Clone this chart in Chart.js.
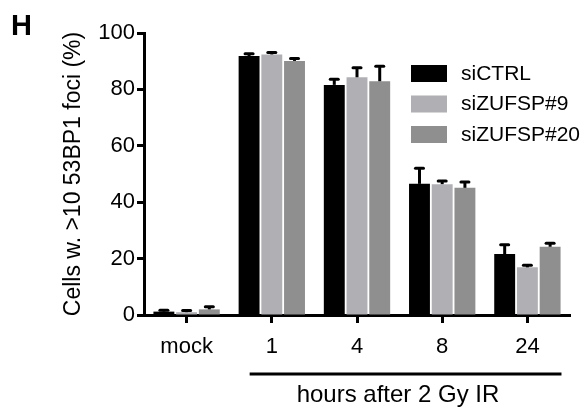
<!DOCTYPE html>
<html>
<head>
<meta charset="utf-8">
<script src="https://cdn.jsdelivr.net/npm/chart.js@4/dist/chart.umd.min.js"></script>
<style>
html,body{margin:0;padding:0;background:#fff;}
#wrap{position:relative;width:583px;height:414px;}
</style>
</head>
<body>
<div id="wrap"><canvas id="c" width="583" height="414"></canvas></div>
<script>
const categories = ['mock', '1', '4', '8', '24'];
const seriesNames = ['siCTRL', 'siZUFSP#9', 'siZUFSP#20'];
const siCTRL = [1.2, 91.8, 81.6, 46.5, 21.6];
const siZUFSP9 = [1.0, 92.4, 84.3, 46.4, 16.9];
const siZUFSP20 = [2.0, 90.1, 82.9, 45.1, 24.2];
const errCTRL = [0.5, 0.8, 2.0, 5.5, 3.3];
const errZUFSP9 = [0.6, 0.7, 3.4, 1.1, 0.7];
const errZUFSP20 = [0.9, 0.9, 5.3, 2.1, 1.2];
const yTicks = [0, 20, 40, 60, 80, 100];
const colors = ['#000000', '#b0b0b4', '#8f8f8f'];
const FONT = 'Liberation Sans, Arial, sans-serif';

const errs = [errCTRL, errZUFSP9, errZUFSP20];

const errorBars = {
  id: 'errorBars',
  afterDatasetsDraw(chart) {
    const ctx = chart.ctx;
    const y = chart.scales.y;
    ctx.save();
    ctx.strokeStyle = '#000';
    ctx.lineWidth = 3;
    chart.data.datasets.forEach((ds, i) => {
      const meta = chart.getDatasetMeta(i);
      meta.data.forEach((el, j) => {
        const v = ds.data[j];
        const top = y.getPixelForValue(v + errs[i][j]);
        ctx.lineCap = 'butt';
        ctx.beginPath();
        ctx.moveTo(el.x, el.y);
        ctx.lineTo(el.x, top);
        ctx.stroke();
        ctx.lineCap = 'round';
        ctx.beginPath();
        ctx.moveTo(el.x - 4, top);
        ctx.lineTo(el.x + 4, top);
        ctx.stroke();
      });
    });
    ctx.restore();
  }
};

const decorations = {
  id: 'decorations',
  afterDraw(chart) {
    const ctx = chart.ctx;
    const xs = chart.scales.x;
    const ca = chart.chartArea;
    ctx.save();
    ctx.fillStyle = '#000';
    ctx.font = 'bold 29px ' + FONT;
    ctx.textBaseline = 'alphabetic';
    ctx.textAlign = 'left';
    ctx.fillText('H', 11, 35);
    ctx.font = '21px ' + FONT;
    ctx.textBaseline = 'middle';
    chart.data.datasets.forEach((ds, i) => {
      const sx = ca.right - 159;
      const sy = 65 + i * 30.5;
      ctx.fillStyle = ds.backgroundColor;
      ctx.fillRect(sx, sy, 36, 17);
      ctx.fillStyle = '#000';
      ctx.fillText(ds.label, sx + 50, sy + 9);
    });
    const step = xs.getPixelForValue(1) - xs.getPixelForValue(0);
    const x1 = xs.getPixelForValue(1) - step * 0.26;
    const x2 = xs.getPixelForValue(4) + step * 0.4;
    ctx.strokeStyle = '#000';
    ctx.lineWidth = 3;
    ctx.lineCap = 'butt';
    ctx.beginPath();
    ctx.moveTo(x1, 374);
    ctx.lineTo(x2, 374);
    ctx.stroke();
    ctx.textAlign = 'center';
    ctx.font = '24px ' + FONT;
    ctx.fillText('hours after 2 Gy IR', 398, 395);
    ctx.restore();
  }
};

new Chart(document.getElementById('c'), {
  type: 'bar',
  data: {
    labels: categories,
    datasets: [
      { label: seriesNames[0], data: siCTRL, backgroundColor: colors[0] },
      { label: seriesNames[1], data: siZUFSP9, backgroundColor: colors[1] },
      { label: seriesNames[2], data: siZUFSP20, backgroundColor: colors[2] }
    ]
  },
  options: {
    responsive: false,
    animation: false,
    devicePixelRatio: 1,
    layout: { padding: { left: 0, right: 13, top: 33, bottom: 0 } },
    datasets: { bar: { categoryPercentage: 0.8, barPercentage: 0.92 } },
    plugins: { legend: { display: false }, tooltip: { enabled: false } },
    scales: {
      x: {
        grid: { display: true, drawOnChartArea: false, offset: false, tickLength: 8, tickColor: '#000', tickWidth: 3 },
        border: { display: true, color: '#000', width: 3 },
        ticks: { color: '#000', font: { family: FONT, size: 22 }, padding: 11 },
        afterFit(scale) { scale.height = 99; }
      },
      y: {
        min: 0, max: 100,
        afterBuildTicks(scale) { scale.ticks = yTicks.map(v => ({ value: v })); },
        grid: { display: true, drawOnChartArea: false, tickLength: 7, tickColor: '#000', tickWidth: 3 },
        border: { display: true, color: '#000', width: 3 },
        ticks: { color: '#000', font: { family: FONT, size: 22 }, padding: 2 },
        title: { display: true, text: 'Cells w. >10 53BP1 foci (%)', color: '#000', font: { family: FONT, size: 23 }, padding: { top: 60, bottom: 0 } },
        afterFit(scale) { scale.width = 144; }
      }
    }
  },
  plugins: [errorBars, decorations]
});
</script>
</body>
</html>
